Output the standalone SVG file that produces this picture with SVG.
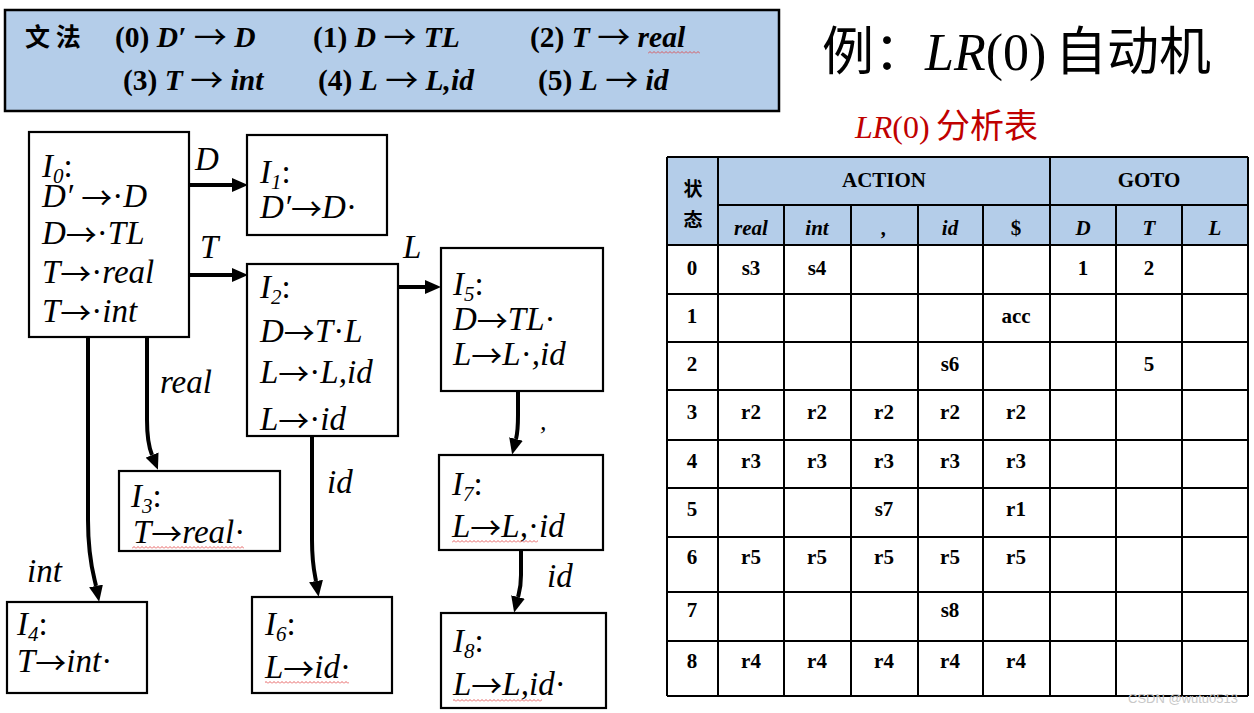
<svg xmlns="http://www.w3.org/2000/svg" width="1254" height="713" viewBox="0 0 1254 713">
<style>
.box{fill:#fff;stroke:#000;stroke-width:2.2}
.it{font-family:Liberation Serif,serif;font-style:italic;font-size:33px;fill:#000}
.n{font-style:normal}
.arw{font-family:Noto Sans CJK SC,sans-serif;font-style:normal;font-weight:normal;font-size:31px;baseline-shift:-2px}
.sub{font-size:21px}
.gr{font-family:Liberation Serif,serif;font-weight:bold;font-size:29.5px;fill:#000}
.gi{font-style:italic}
.ga{font-family:Noto Sans CJK SC,sans-serif;font-weight:normal;font-size:33px;baseline-shift:-2px}
.cell{font-family:Liberation Serif,serif;font-weight:bold;font-size:21px;text-anchor:middle;fill:#000}
.cjk{font-family:Noto Sans CJK SC,sans-serif;font-weight:bold}
.hd{fill:#b4cde9}
.grid line{stroke:#000;stroke-width:2}
.conn path{fill:none;stroke:#000;stroke-width:4}
.wave{fill:url(#wave)}
</style>
<defs>
<marker id="ah" markerUnits="userSpaceOnUse" markerWidth="16" markerHeight="14" refX="0" refY="7" orient="auto">
<path d="M0,0 L16,7 L0,14 z" fill="#000"/>
</marker>
<pattern id="wave" width="4" height="3" patternUnits="userSpaceOnUse">
<path d="M0,2.5 L2,0.5 L4,2.5" fill="none" stroke="#e03a3a" stroke-width="0.8"/>
</pattern>
</defs>
<rect width="1254" height="713" fill="#fff"/>

<g id="grammar">
<rect x="5" y="10" width="774" height="101" fill="#b4cde9" stroke="#000" stroke-width="2.5"/>
<text class="cjk" x="25" y="46" font-size="25" fill="#000">文 法</text>
<text class="gr" x="115" y="47">(0) <tspan class="gi">D′</tspan> <tspan class="ga">→</tspan> <tspan class="gi">D</tspan></text>
<text class="gr" x="313" y="47">(1) <tspan class="gi">D</tspan> <tspan class="ga">→</tspan> <tspan class="gi">TL</tspan></text>
<text class="gr" x="530" y="47">(2) <tspan class="gi">T</tspan> <tspan class="ga">→</tspan> <tspan class="gi">real</tspan></text>
<rect class="wave" x="648" y="51" width="52" height="3"/>
<text class="gr" x="123" y="90">(3) <tspan class="gi">T</tspan> <tspan class="ga">→</tspan> <tspan class="gi">int</tspan></text>
<text class="gr" x="318" y="90">(4) <tspan class="gi">L</tspan> <tspan class="ga">→</tspan> <tspan class="gi">L,id</tspan></text>
<text class="gr" x="538" y="90">(5) <tspan class="gi">L</tspan> <tspan class="ga">→</tspan> <tspan class="gi">id</tspan></text>
</g>

<g id="title">
<text y="70" font-size="52" fill="#000"><tspan x="822" font-family="'Noto Sans CJK SC',sans-serif">例：</tspan><tspan x="925" font-family="'Liberation Serif',serif" font-style="italic">LR</tspan><tspan font-family="'Liberation Serif',serif">(0)</tspan><tspan x="1055" font-family="'Noto Sans CJK SC',sans-serif">自动机</tspan></text>
<text y="138" font-size="32" fill="#c00000"><tspan x="855" font-family="'Liberation Serif',serif" font-style="italic">LR</tspan><tspan font-family="'Liberation Serif',serif">(0)</tspan><tspan x="936" font-family="'Noto Sans CJK SC',sans-serif" font-size="34">分析表</tspan></text>
</g>

<g id="I0">
<rect class="box" x="29" y="132" width="160" height="205"/>
<text class="it" x="42" y="177">I<tspan class="sub" dy="6">0</tspan><tspan dy="-6" class="n">:</tspan></text>
<text class="it" x="42" y="207">D′ <tspan class="arw">→</tspan><tspan class="n">·</tspan>D</text>
<text class="it" x="42" y="244">D<tspan class="arw">→</tspan><tspan class="n">·</tspan>TL</text>
<text class="it" x="42" y="283">T<tspan class="arw">→</tspan><tspan class="n">·</tspan>real</text>
<text class="it" x="42" y="322">T<tspan class="arw">→</tspan><tspan class="n">·</tspan>int</text>
</g>
<g id="I1">
<rect class="box" x="247" y="135" width="140" height="100"/>
<text class="it" x="260" y="183">I<tspan class="sub" dy="6">1</tspan><tspan dy="-6" class="n">:</tspan></text>
<text class="it" x="260" y="218">D′<tspan class="arw">→</tspan>D<tspan class="n">·</tspan></text>
</g>
<g id="I2">
<rect class="box" x="247" y="264" width="151" height="172"/>
<text class="it" x="260" y="298">I<tspan class="sub" dy="6">2</tspan><tspan dy="-6" class="n">:</tspan></text>
<text class="it" x="260" y="342">D<tspan class="arw">→</tspan>T<tspan class="n">·</tspan>L</text>
<text class="it" x="260" y="383">L<tspan class="arw">→</tspan><tspan class="n">·</tspan>L,id</text>
<text class="it" x="260" y="430">L<tspan class="arw">→</tspan><tspan class="n">·</tspan>id</text>
</g>
<g id="I3">
<rect class="box" x="119" y="471" width="161" height="80"/>
<text class="it" x="131" y="507">I<tspan class="sub" dy="6">3</tspan><tspan dy="-6" class="n">:</tspan></text>
<text class="it" x="133" y="543">T<tspan class="arw">→</tspan>real<tspan class="n">·</tspan></text>
<rect class="wave" x="132" y="546" width="112" height="3"/>
</g>
<g id="I4">
<rect class="box" x="7" y="602" width="140" height="91"/>
<text class="it" x="17" y="635">I<tspan class="sub" dy="6">4</tspan><tspan dy="-6" class="n">:</tspan></text>
<text class="it" x="17" y="672">T<tspan class="arw">→</tspan>int<tspan class="n">·</tspan></text>
</g>
<g id="I5">
<rect class="box" x="441" y="248" width="162" height="143"/>
<text class="it" x="453" y="295">I<tspan class="sub" dy="6">5</tspan><tspan dy="-6" class="n">:</tspan></text>
<text class="it" x="453" y="330">D<tspan class="arw">→</tspan>TL<tspan class="n">·</tspan></text>
<text class="it" x="453" y="365">L<tspan class="arw">→</tspan>L<tspan class="n">·</tspan>,id</text>
</g>
<g id="I6">
<rect class="box" x="252" y="597" width="140" height="96"/>
<text class="it" x="265" y="635">I<tspan class="sub" dy="6">6</tspan><tspan dy="-6" class="n">:</tspan></text>
<text class="it" x="265" y="678">L<tspan class="arw">→</tspan>id<tspan class="n">·</tspan></text>
<rect class="wave" x="265" y="681" width="84" height="3"/>
</g>
<g id="I7">
<rect class="box" x="439" y="455" width="164" height="95"/>
<text class="it" x="452" y="495">I<tspan class="sub" dy="6">7</tspan><tspan dy="-6" class="n">:</tspan></text>
<text class="it" x="452" y="537">L<tspan class="arw">→</tspan>L,<tspan class="n">·</tspan>id</text>
<rect class="wave" x="452" y="540" width="86" height="3"/>
</g>
<g id="I8">
<rect class="box" x="441" y="613" width="165" height="95"/>
<text class="it" x="453" y="652">I<tspan class="sub" dy="6">8</tspan><tspan dy="-6" class="n">:</tspan></text>
<text class="it" x="453" y="695">L<tspan class="arw">→</tspan>L,id<tspan class="n">·</tspan></text>
<rect class="wave" x="453" y="699" width="89" height="3"/>
</g>

<g id="connectors" class="conn">
<path d="M189,185 L232,185" marker-end="url(#ah)"/>
<path d="M189,275 L232,275" marker-end="url(#ah)"/>
<path d="M398,287 L425,287" marker-end="url(#ah)"/>
<path d="M518,391 L518,415 C518,430 517,435 516,439" marker-end="url(#ah)"/>
<path d="M521,550 L521,575 C521,588 519,593 518,597" marker-end="url(#ah)"/>
<path d="M147,337 L147,420 C147,440 150,450 152,455" marker-end="url(#ah)"/>
<path d="M88,337 L88,520 C88,560 94,576 96,586" marker-end="url(#ah)"/>
<path d="M312,436 L312,540 C312,565 315,575 316,581" marker-end="url(#ah)"/>
<g class="it">
<text x="195" y="170">D</text>
<text x="200" y="258">T</text>
<text x="403" y="258">L</text>
<text x="160" y="393">real</text>
<text x="27" y="582">int</text>
<text x="327" y="493">id</text>
<text x="540" y="430" font-size="26">,</text>
<text x="547" y="587">id</text>
</g>
</g>

<g id="table">
<rect class="hd" x="667" y="157" width="581" height="88"/>
<g class="grid">
<line x1="667" y1="157" x2="1248" y2="157"/>
<line x1="718" y1="205" x2="1248" y2="205"/>
<line x1="667" y1="245" x2="1248" y2="245"/>
<line x1="667" y1="294" x2="1248" y2="294"/>
<line x1="667" y1="342" x2="1248" y2="342"/>
<line x1="667" y1="390" x2="1248" y2="390"/>
<line x1="667" y1="440" x2="1248" y2="440"/>
<line x1="667" y1="488" x2="1248" y2="488"/>
<line x1="667" y1="537" x2="1248" y2="537"/>
<line x1="667" y1="592" x2="1248" y2="592"/>
<line x1="667" y1="641" x2="1248" y2="641"/>
<line x1="667" y1="696" x2="1248" y2="696"/>
<line x1="667" y1="157" x2="667" y2="696"/>
<line x1="718" y1="157" x2="718" y2="696"/>
<line x1="784" y1="205" x2="784" y2="696"/>
<line x1="851" y1="205" x2="851" y2="696"/>
<line x1="918" y1="205" x2="918" y2="696"/>
<line x1="983" y1="205" x2="983" y2="696"/>
<line x1="1050" y1="157" x2="1050" y2="696"/>
<line x1="1116" y1="205" x2="1116" y2="696"/>
<line x1="1182" y1="205" x2="1182" y2="696"/>
<line x1="1248" y1="157" x2="1248" y2="696"/>
</g>
<g class="cell">
<text class="cjk" x="693" y="196" font-size="19">状</text>
<text class="cjk" x="693" y="227" font-size="19">态</text>
<text x="884" y="187">ACTION</text>
<text x="1149" y="187">GOTO</text>
<g font-style="italic">
<text x="751" y="235">real</text>
<text x="817" y="235">int</text>
<text x="884" y="235">,</text>
<text x="950" y="235">id</text>
<text x="1083" y="235">D</text>
<text x="1149" y="235">T</text>
<text x="1215" y="235">L</text>
</g>
<text x="1016" y="235">$</text>
<text x="692" y="275">0</text><text x="751" y="275">s3</text><text x="817" y="275">s4</text><text x="1083" y="275">1</text><text x="1149" y="275">2</text>
<text x="692" y="323">1</text><text x="1016" y="323">acc</text>
<text x="692" y="371">2</text><text x="950" y="371">s6</text><text x="1149" y="371">5</text>
<text x="692" y="419">3</text><text x="751" y="419">r2</text><text x="817" y="419">r2</text><text x="884" y="419">r2</text><text x="950" y="419">r2</text><text x="1016" y="419">r2</text>
<text x="692" y="468">4</text><text x="751" y="468">r3</text><text x="817" y="468">r3</text><text x="884" y="468">r3</text><text x="950" y="468">r3</text><text x="1016" y="468">r3</text>
<text x="692" y="516">5</text><text x="884" y="516">s7</text><text x="1016" y="516">r1</text>
<text x="692" y="564">6</text><text x="751" y="564">r5</text><text x="817" y="564">r5</text><text x="884" y="564">r5</text><text x="950" y="564">r5</text><text x="1016" y="564">r5</text>
<text x="692" y="617">7</text><text x="950" y="617">s8</text>
<text x="692" y="668">8</text><text x="751" y="668">r4</text><text x="817" y="668">r4</text><text x="884" y="668">r4</text><text x="950" y="668">r4</text><text x="1016" y="668">r4</text>
</g>
</g>
<text x="1128" y="703" font-family="'Liberation Sans',sans-serif" font-size="13" fill="#c8c8c8">CSDN @wutu0513</text>
</svg>
